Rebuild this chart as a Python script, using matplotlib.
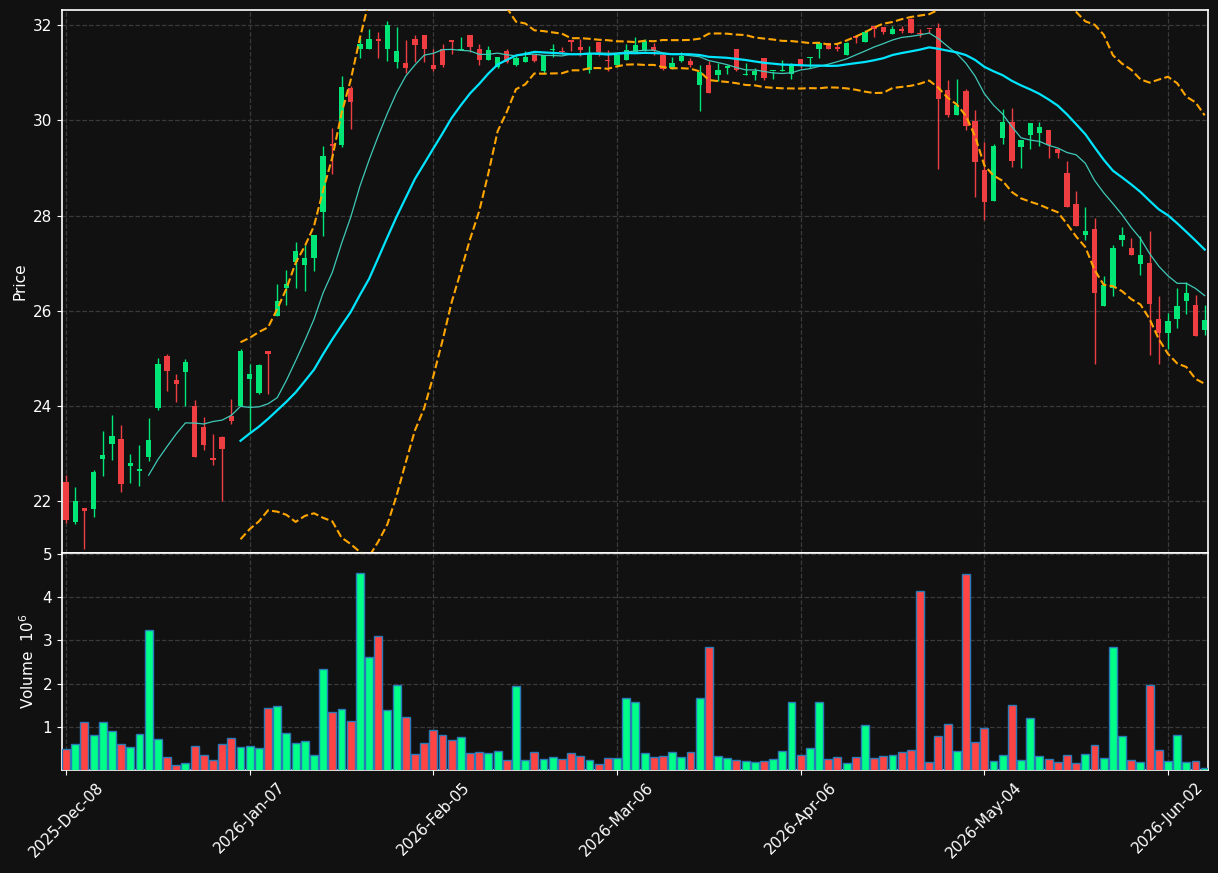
import matplotlib
matplotlib.use("Agg")
import matplotlib.pyplot as plt
import numpy as np
import pandas as pd

# ── Datos ─────────────────────────────────────────────────────────
opens = [
    22.40, 21.57, 21.85, 21.84, 22.89, 23.19, 23.31, 22.74, 22.63, 22.93,
    23.96, 25.05, 24.54, 24.72, 24.00, 23.56, 22.89, 23.34, 23.78, 24.00,
    24.57, 24.28, 25.16, 25.89, 26.47, 27.03, 26.97, 27.10, 28.08, 29.51,
    29.49, 30.67, 31.49, 31.49, 31.71, 31.51, 31.23, 31.21, 31.71, 31.79,
    31.17, 31.50, 31.66, 31.48, 31.79, 31.51, 31.27, 31.12, 31.46, 31.17,
    31.22, 31.38, 31.04, 31.48, 31.45, 31.66, 31.54, 31.05, 31.65, 31.26,
    31.17, 31.26, 31.43, 31.46, 31.54, 31.37, 31.11, 31.25, 31.25, 30.75,
    31.17, 30.95, 31.11, 31.51, 30.95, 30.95, 31.31, 31.03, 31.03, 30.98,
    31.29, 31.30, 31.49, 31.63, 31.52, 31.37, 31.78, 31.64, 31.98, 31.96,
    31.82, 31.93, 32.13, 31.82, 31.93, 31.94, 30.64, 30.12, 30.62, 29.99,
    28.96, 28.31, 29.62, 29.96, 29.43, 29.70, 29.74, 29.80, 29.40, 28.90,
    28.25, 27.60, 27.72, 26.09, 26.47, 27.49, 27.32, 26.99, 27.00, 25.83,
    25.54, 25.82, 26.21, 26.12, 25.60,
]
highs = [
    22.55, 22.29, 21.85, 22.66, 23.47, 23.81, 23.60, 22.99, 23.18, 23.74,
    25.01, 25.09, 24.67, 24.98, 24.12, 23.76, 23.40, 23.36, 24.15, 25.19,
    24.88, 24.88, 25.16, 26.57, 26.85, 27.44, 27.39, 27.60, 29.46, 29.83,
    30.94, 30.72, 31.73, 31.91, 31.85, 32.09, 31.96, 31.68, 31.79, 31.79,
    31.51, 31.60, 31.69, 31.75, 31.79, 31.61, 31.56, 31.34, 31.51, 31.35,
    31.46, 31.38, 31.37, 31.60, 31.54, 31.66, 31.71, 31.56, 31.65, 31.48,
    31.37, 31.60, 31.75, 31.70, 31.62, 31.42, 31.34, 31.43, 31.30, 31.17,
    31.25, 31.21, 31.17, 31.51, 31.21, 31.09, 31.31, 31.04, 31.27, 31.21,
    31.29, 31.33, 31.65, 31.63, 31.63, 31.65, 31.78, 31.89, 31.98, 31.96,
    31.99, 31.99, 32.16, 31.93, 31.93, 32.04, 30.84, 30.86, 30.66, 30.22,
    29.55, 29.50, 30.24, 30.25, 29.59, 29.95, 29.96, 29.80, 29.40, 29.14,
    28.51, 28.19, 27.94, 26.74, 27.38, 27.75, 27.52, 27.58, 27.67, 26.30,
    25.95, 26.47, 26.61, 26.34, 26.11,
]
lows = [
    21.53, 21.51, 21.00, 21.67, 22.53, 22.87, 22.20, 22.37, 22.31, 22.84,
    23.91, 24.31, 24.09, 23.99, 22.93, 23.08, 22.75, 22.00, 23.61, 24.00,
    23.47, 24.24, 24.24, 25.89, 26.12, 26.47, 26.41, 26.84, 27.57, 28.87,
    29.45, 29.82, 31.31, 31.49, 31.31, 31.24, 31.10, 31.00, 31.23, 31.23,
    31.03, 31.12, 31.39, 31.48, 31.43, 31.17, 31.27, 31.09, 31.20, 31.14,
    31.22, 31.23, 31.00, 31.33, 31.40, 31.45, 31.35, 30.99, 31.36, 31.04,
    31.13, 31.26, 31.43, 31.46, 31.37, 31.05, 31.08, 31.23, 31.13, 30.19,
    30.58, 30.82, 30.98, 31.03, 30.95, 30.84, 30.84, 30.86, 31.03, 30.86,
    31.10, 31.10, 31.31, 31.50, 31.46, 31.37, 31.62, 31.64, 31.76, 31.82,
    31.82, 31.84, 31.84, 31.76, 31.84, 28.98, 30.07, 30.12, 29.80, 28.39,
    27.91, 28.31, 29.50, 29.01, 28.99, 29.40, 29.46, 29.20, 29.20, 28.19,
    27.79, 27.49, 24.89, 26.09, 26.31, 27.35, 27.18, 26.76, 25.07, 24.88,
    25.19, 25.64, 25.93, 25.47, 25.48,
]
closes = [
    21.61, 22.00, 21.79, 22.61, 22.97, 23.36, 22.35, 22.80, 22.68, 23.28,
    24.88, 24.74, 24.45, 24.92, 22.93, 23.17, 22.87, 23.10, 23.68, 25.16,
    24.67, 24.85, 25.10, 26.20, 26.57, 27.26, 27.11, 27.60, 29.26, 29.46,
    30.70, 30.39, 31.60, 31.71, 31.66, 32.00, 31.46, 31.09, 31.59, 31.51,
    31.07, 31.17, 31.65, 31.51, 31.54, 31.27, 31.48, 31.34, 31.23, 31.31,
    31.34, 31.25, 31.37, 31.51, 31.43, 31.65, 31.48, 31.40, 31.43, 31.24,
    31.37, 31.48, 31.59, 31.66, 31.45, 31.07, 31.20, 31.36, 31.17, 31.01,
    30.58, 31.06, 31.14, 31.06, 30.97, 31.04, 30.90, 31.04, 31.05, 31.16,
    31.17, 31.33, 31.62, 31.51, 31.51, 31.63, 31.73, 31.85, 31.91, 31.86,
    31.93, 31.88, 31.84, 31.81, 31.91, 30.44, 30.12, 30.32, 29.89, 29.13,
    28.28, 29.46, 29.96, 29.15, 29.59, 29.95, 29.86, 29.49, 29.32, 28.19,
    27.79, 27.68, 26.38, 26.54, 27.32, 27.60, 27.18, 27.17, 26.15, 25.54,
    25.78, 26.10, 26.37, 25.47, 25.81,
]
# volumen en millones
volumes = [
    0.49, 0.62, 1.13, 0.815, 1.13, 0.91, 0.62, 0.54, 0.84, 3.24,
    0.72, 0.31, 0.12, 0.17, 0.56, 0.35, 0.24, 0.61, 0.75, 0.54,
    0.56, 0.52, 1.44, 1.48, 0.86, 0.63, 0.68, 0.35, 2.34, 1.35,
    1.42, 1.14, 4.55, 2.61, 3.10, 1.39, 1.98, 1.23, 0.38, 0.63,
    0.93, 0.815, 0.70, 0.77, 0.40, 0.42, 0.40, 0.45, 0.24, 1.95,
    0.24, 0.42, 0.26, 0.31, 0.26, 0.40, 0.33, 0.24, 0.15, 0.28,
    0.28, 1.67, 1.58, 0.40, 0.31, 0.33, 0.42, 0.31, 0.42, 1.67,
    2.85, 0.33, 0.28, 0.24, 0.22, 0.19, 0.22, 0.26, 0.45, 1.58,
    0.35, 0.52, 1.58, 0.26, 0.31, 0.17, 0.31, 1.05, 0.28, 0.33,
    0.35, 0.42, 0.47, 4.14, 0.19, 0.79, 1.07, 0.45, 4.53, 0.65,
    0.98, 0.22, 0.35, 1.51, 0.24, 1.21, 0.33, 0.26, 0.19, 0.35,
    0.17, 0.38, 0.58, 0.28, 2.85, 0.79, 0.24, 0.19, 1.97, 0.47,
    0.22, 0.815, 0.19, 0.22, 0.055,
]
tick_pos = [0, 20, 40, 60, 80, 100, 120]
tick_labels = ["2025-Dec-08", "2026-Jan-07", "2026-Feb-05", "2026-Mar-06",
               "2026-Apr-06", "2026-May-04", "2026-Jun-02"]

# ── Estilo ────────────────────────────────────────────────────────
BG = "#111111"
GRID = "#3a3a3a"
UP_C, DOWN_C = "#00e676", "#ef3e42"
VUP_C, VDOWN_C = "#00ff88", "#ff4444"

o = np.array(opens); h = np.array(highs); l = np.array(lows); c = np.array(closes)
v = np.array(volumes)
x = np.arange(len(c))
up = c >= o

s = pd.Series(c)
ma10 = s.rolling(10).mean()
ma20 = s.rolling(20).mean()
sd20 = s.rolling(20).std(ddof=0)
bb_up = ma20 + 2 * sd20
bb_lo = ma20 - 2 * sd20

fig = plt.figure(figsize=(12.18, 8.73), dpi=100, facecolor=BG)
ax = fig.add_axes([0.0509, 0.3666, 0.9409, 0.622], facecolor=BG)
axv = fig.add_axes([0.0509, 0.118, 0.9409, 0.2486], facecolor=BG, sharex=ax)

# velas
ax.vlines(x, l, h, colors=np.where(up, UP_C, DOWN_C), linewidth=1.0, zorder=3)
body_bot = np.minimum(o, c)
body_h = np.maximum(np.abs(c - o), 0.03)
ax.bar(x, body_h, bottom=body_bot, width=0.58,
       color=np.where(up, UP_C, DOWN_C), linewidth=0, zorder=4)

ax.plot(x, ma10, color="#3fc9b8", linewidth=0.9, zorder=5)
ax.plot(x, ma20, color="#00e5ff", linewidth=1.6, zorder=5)
ax.plot(x, bb_up, color="#ffa500", linewidth=1.5, linestyle="--", zorder=5)
ax.plot(x, bb_lo, color="#ffa500", linewidth=1.5, linestyle="--", zorder=5)

ax.set_ylim(20.91, 32.32)
ax.set_xlim(-0.44, 124.36)
ax.set_yticks([22, 24, 26, 28, 30, 32])
ax.set_ylabel("Price", color="white", fontsize=11)

# volumen
axv.bar(x, v, width=0.86, color=np.where(up, VUP_C, VDOWN_C),
        edgecolor="#2a7ab8", linewidth=1.0, zorder=3)
axv.set_ylim(0.015, 5.015)
axv.set_yticks([1, 2, 3, 4, 5])
axv.set_ylabel("Volume  $10^{6}$", color="white", fontsize=11)
axv.set_xticks(tick_pos)
axv.set_xticklabels(tick_labels, rotation=45)

for a in (ax, axv):
    a.grid(True, color=GRID, linestyle="--", linewidth=0.9)
    a.set_axisbelow(True)
    a.tick_params(colors="white", labelsize=11)
    for sp in a.spines.values():
        sp.set_color("white")
        sp.set_linewidth(1.2)
ax.tick_params(labelbottom=False)

fig.savefig("out.png", dpi=100, facecolor=BG)
